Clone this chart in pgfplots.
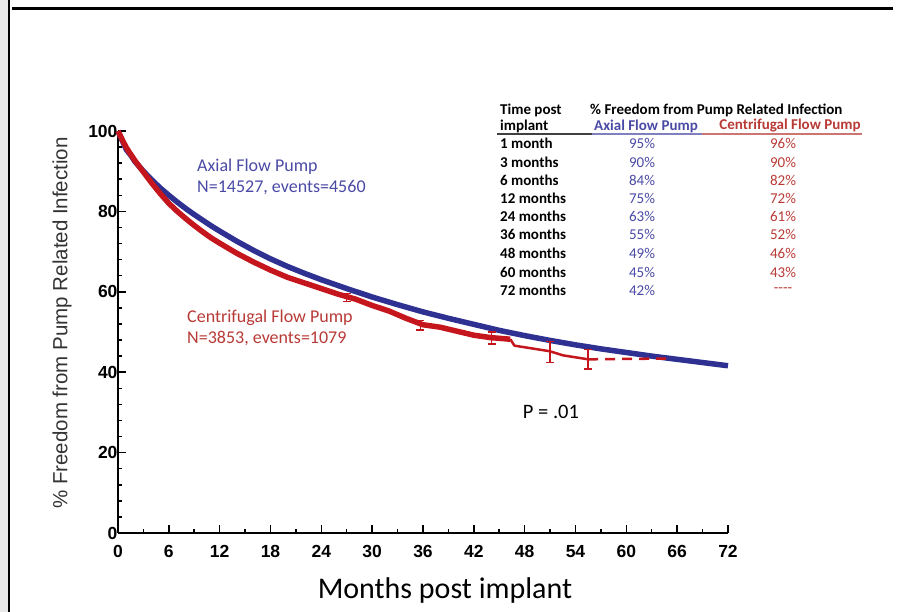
\documentclass[border=0pt]{standalone}
\usepackage{pgfplots}
\pgfplotsset{compat=1.18}
\usepackage{fontspec}
\setmainfont{Carlito}
\newfontfamily\arialfont{Liberation Sans}

\definecolor{axialC}{HTML}{2E3192}
\definecolor{centC}{HTML}{C4161C}
\definecolor{axialT}{HTML}{4A4AA6}
\definecolor{centT}{HTML}{B83A36}

\begin{document}
\begin{tikzpicture}[x=1pt,y=1pt]
\path[use as bounding box] (0,0) rectangle (898,612);
% page frame
\fill[gray!18] (0,0) rectangle (8,612);
\draw[line width=2pt] (9,0) -- (9,612);
\draw[line width=3pt] (12,603) -- (893,603);

\begin{axis}[
  at={(118pt,79pt)}, anchor=origin,
  scale only axis, width=610pt, height=402pt,
  xmin=0, xmax=72, ymin=0, ymax=100,
  axis x line*=bottom, axis y line*=left,
  axis line style={line width=1.8pt},
  xtick={0,6,...,72}, minor x tick num=1,
  ytick={0,20,...,100}, minor y tick num=4,
  tick align=inside,
  major tick length=8pt, minor tick length=4pt,
  every tick/.style={line width=1.5pt, black},
  tick label style={font=\arialfont\bfseries\fontsize{17.5}{17.5}\selectfont},
  /pgf/number format/assume math mode=true,
  xticklabel style={yshift=-9pt},
  yticklabel style={xshift=3pt},
  clip=false,
]
% Axial flow pump
\addplot[axialC, line width=5.5pt, line join=round] coordinates {
(0,100) (0.5,97.6) (1,95.3) (1.5,94) (2,92.4) (3,90) (4,87.8) (5,85.8)
(6,84) (7,82.3) (8,80.7) (9,79.2) (10,77.8) (11,76.4) (12,75.1) (14,72.6)
(16,70.3) (18,68.2) (20,66.3) (22,64.6) (24,63) (27,60.8) (30,58.7)
(33,56.8) (36,55) (39,53.4) (42,51.9) (45,50.4) (48,49.1) (51,47.9)
(54,46.8) (57,45.8) (60,44.9) (63,44.0) (66,43.2) (69,42.4) (72,41.6)
};
% Centrifugal flow pump
\addplot[centC, line width=5.5pt, line join=round] coordinates {
(0,100) (0.5,97.8) (1,95.8) (1.5,94.2) (2,92.6) (3,89.8) (4,87.0) (5,84.4)
(6,82.0) (7,80.0) (8,78.2) (9,76.5) (10,74.9) (11,73.4) (12,72.1) (14,69.6)
(16,67.4) (18,65.4) (20,63.6) (22,62.2) (24,60.8) (26,59.4) (28,58.2)
(30,56.6) (32,55.2) (34,53.4) (36,51.8) (38,51.2) (40,50.2) (42,49.2) (44,48.6)
(46.3,48.2)
};
\addplot[centC, line width=2.5pt, line join=round] coordinates {
(46.3,48.2) (46.8,46.6) (48,46.2) (51,45.2) (52.5,44.2) (55.5,43.2)
};
\addplot[centC, line width=2.5pt, dash pattern=on 10pt off 7pt] coordinates {
(55.5,43.2) (65,43.4)
};
% confidence bars
\addplot[draw=none, mark=none,
  error bars/.cd, y dir=both, y explicit,
  error bar style={draw=centC, line width=1.5pt},
  error mark options={draw=centC, rotate=90, mark size=4pt, line width=1.5pt}]
coordinates {
(27,58.6) +- (0,1.0)
(35.7,51.7) +- (0,1.2)
(44.1,48.5) +- (0,1.5)
(51,45.0) +- (0,2.6)
(55.5,43.2) +- (0,2.4)
};
\end{axis}

% axis titles
\node[rotate=90, text=black!80, font=\arialfont\fontsize{20.5}{20.5}\selectfont] at (62,289) {\% Freedom from Pump Related Infection};
\node[font=\fontsize{30}{30}\selectfont] at (445,21) {Months post implant};

% curve annotations
\node[anchor=west, text=axialT, font=\fontsize{18}{18}\selectfont, align=left, inner sep=0pt] at (197,435) {Axial Flow Pump\\[3pt]N=14527, events=4560};
\node[anchor=west, text=centT, font=\fontsize{18}{18}\selectfont, align=left, inner sep=0pt] at (187,284) {Centrifugal Flow Pump\\[3pt]N=3853, events=1079};
\node[font=\fontsize{20.5}{20.5}\selectfont] at (551,200) {P = .01};

% survival table
\begin{scope}[every node/.style={font=\bfseries\fontsize{15}{15}\selectfont, inner sep=0pt}]
\node[anchor=west] at (500,502) {Time post};
\node[anchor=west] at (500,486) {implant};
\node[anchor=west] at (590,502) {\% Freedom from Pump Related Infection};
\node[text=axialT] at (646,486) {Axial Flow Pump};
\node[text=centT] at (790,486) {Centrifugal Flow Pump};
\draw[line width=1.2pt, black!75] (497,478) -- (592,478);
\draw[line width=1.2pt, axialT!70] (592,478) -- (702,478);
\draw[line width=1.2pt, centT!70] (702,478) -- (862,478);
\foreach \y/\t/\a/\c in {469/1 month/95/96, 450/3 months/90/90, 432/6 months/84/82,
  414/12 months/75/72, 396/24 months/63/61, 378/36 months/55/52,
  359/48 months/49/46, 340/60 months/45/43} {
  \node[anchor=west] at (500,\y) {\t};
  \node[text=axialT, font=\fontsize{15}{15}\selectfont] at (642,\y) {\a\%};
  \node[text=centT, font=\fontsize{15}{15}\selectfont] at (783,\y) {\c\%};
}
\node[anchor=west] at (500,322) {72 months};
\node[text=axialT, font=\fontsize{15}{15}\selectfont] at (642,322) {42\%};
\node[text=centT, font=\fontsize{15}{15}\selectfont] at (783,322) {{-}{-}{-}{-}};
\end{scope}
\end{tikzpicture}
\end{document}
